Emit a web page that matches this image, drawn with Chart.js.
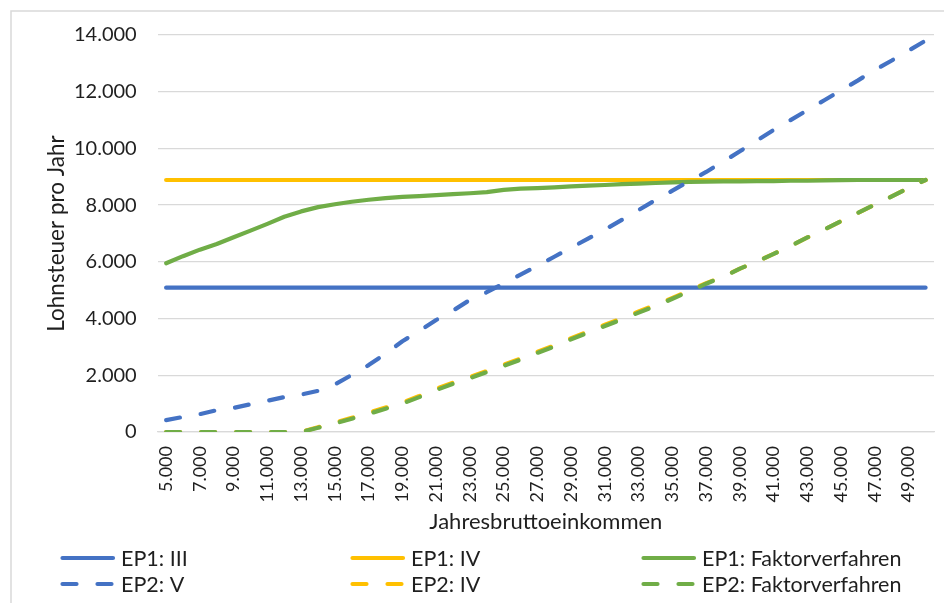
<!DOCTYPE html>
<html lang="de">
<head>
<meta charset="utf-8">
<title>Lohnsteuer pro Jahr</title>
<script src="https://cdn.jsdelivr.net/npm/chart.js@4.4.1/dist/chart.umd.min.js"></script>
<style>
  html, body { margin: 0; padding: 0; background: #ffffff; }
  #wrap { position: relative; width: 944px; height: 603px; overflow: hidden; }
  canvas { display: block; }
</style>
</head>
<body>
<div id="wrap"><canvas id="chart" width="944" height="603"></canvas></div>
<script>
// Jahresbruttoeinkommen von EP2 (Kategorien)
const incomes = [
  5000, 6000, 7000, 8000, 9000, 10000, 11000, 12000, 13000, 14000,
  15000, 16000, 17000, 18000, 19000, 20000, 21000, 22000, 23000, 24000,
  25000, 26000, 27000, 28000, 29000, 30000, 31000, 32000, 33000, 34000,
  35000, 36000, 37000, 38000, 39000, 40000, 41000, 42000, 43000, 44000,
  45000, 46000, 47000, 48000, 49000, 50000
];

// Lohnsteuer EP1, Steuerklasse III
const ep1III = [
  5090, 5090, 5090, 5090, 5090, 5090, 5090, 5090, 5090, 5090,
  5090, 5090, 5090, 5090, 5090, 5090, 5090, 5090, 5090, 5090,
  5090, 5090, 5090, 5090, 5090, 5090, 5090, 5090, 5090, 5090,
  5090, 5090, 5090, 5090, 5090, 5090, 5090, 5090, 5090, 5090,
  5090, 5090, 5090, 5090, 5090, 5090
];

// Lohnsteuer EP1, Steuerklasse IV
const ep1IV = [
  8886, 8886, 8886, 8886, 8886, 8886, 8886, 8886, 8886, 8886,
  8886, 8886, 8886, 8886, 8886, 8886, 8886, 8886, 8886, 8886,
  8886, 8886, 8886, 8886, 8886, 8886, 8886, 8886, 8886, 8886,
  8886, 8886, 8886, 8886, 8886, 8886, 8886, 8886, 8886, 8886,
  8886, 8886, 8886, 8886, 8886, 8886
];

// Lohnsteuer EP1, Faktorverfahren
const ep1Faktor = [
  5950, 6200, 6430, 6630, 6870, 7100, 7340, 7590, 7780, 7930,
  8030, 8120, 8190, 8250, 8290, 8320, 8350, 8390, 8420, 8460,
  8540, 8580, 8600, 8630, 8660, 8690, 8710, 8740, 8760, 8780,
  8800, 8820, 8830, 8840, 8840, 8850, 8850, 8860, 8860, 8870,
  8880, 8886, 8886, 8886, 8886, 8886
];

// Lohnsteuer EP2, Steuerklasse V
const ep2V = [
  420, 530, 630, 770, 850, 980, 1100, 1230, 1320, 1450,
  1680, 2010, 2360, 2760, 3200, 3560, 3950, 4280, 4660, 4930,
  5240, 5550, 5860, 6180, 6500, 6820, 7140, 7480, 7830, 8180,
  8510, 8850, 9170, 9530, 9900, 10280, 10650, 11000, 11350, 11700,
  12050, 12400, 12770, 13100, 13450, 13800
];

// Lohnsteuer EP2, Steuerklasse IV
const ep2IV = [
  0, 0, 0, 0, 0, 0, 0, 0, 0, 170,
  330, 500, 680, 860, 1040, 1270, 1520, 1740, 1940, 2150,
  2370, 2590, 2830, 3050, 3310, 3540, 3780, 4010, 4250, 4480,
  4730, 4990, 5250, 5480, 5760, 6010, 6280, 6560, 6860, 7140,
  7440, 7730, 8020, 8310, 8610, 8886
];

// Lohnsteuer EP2, Faktorverfahren
const ep2Faktor = [
  0, 0, 0, 0, 0, 0, 0, 0, 0, 150,
  300, 470, 640, 820, 1000, 1230, 1480, 1700, 1900, 2110,
  2330, 2550, 2790, 3010, 3270, 3500, 3740, 3970, 4210, 4440,
  4700, 4960, 5230, 5470, 5760, 6010, 6280, 6560, 6860, 7140,
  7440, 7730, 8020, 8310, 8610, 8886
];

const seriesNames = [
  'EP1: III', 'EP1: IV', 'EP1: Faktorverfahren',
  'EP2: V', 'EP2: IV', 'EP2: Faktorverfahren'
];

// deutsche Tausendertrennung: 14000 -> "14.000"
function fmtDE(v) {
  return String(Math.round(v)).replace(/\B(?=(\d{3})+(?!\d))/g, '.');
}
const incomeLabels = incomes.map(fmtDE);

const BLUE = '#4472C4', GOLD = '#FFC000', GREEN = '#70AD47';
const TEXT = '#1f1f1f', GRID = '#d9d9d9';
const FONT = 'Lato';
const DASH = [14, 21];

function series(label, data, color, dashed, idx) {
  return {
    label, data,
    borderColor: color,
    backgroundColor: color,
    borderWidth: 4.2,
    borderDash: dashed ? DASH : [],
    borderCapStyle: 'round',
    borderJoinStyle: 'round',
    pointRadius: 0,
    tension: 0,
    fill: false,
    order: 6 - idx   // spätere Reihen liegen oben
  };
}

// Legende als 3 Spalten x 2 Zeilen unterhalb der Achse
const gridLegend = {
  id: 'gridLegend',
  beforeDraw(chart) {
    const ctx = chart.ctx;
    ctx.save();
    ctx.strokeStyle = GRID;
    ctx.lineWidth = 1.5;
    ctx.beginPath();
    ctx.moveTo(11, chart.height + 2);
    ctx.lineTo(11, 11);
    ctx.lineTo(chart.width + 2, 11);
    ctx.stroke();
    ctx.restore();
  },
  afterDraw(chart) {
    const ctx = chart.ctx;
    const cols = [60, 350, 641];
    const rows = [558, 584];
    chart.data.datasets.forEach((ds, i) => {
      const x0 = cols[i % 3];
      const y = rows[Math.floor(i / 3)];
      ctx.save();
      ctx.strokeStyle = ds.borderColor;
      ctx.lineWidth = ds.borderWidth;
      ctx.lineCap = 'round';
      ctx.setLineDash(ds.borderDash);
      ctx.beginPath();
      ctx.moveTo(x0 + 2.5, y);
      ctx.lineTo(x0 + 53, y);
      ctx.stroke();
      ctx.setLineDash([]);
      ctx.fillStyle = TEXT;
      ctx.font = '21.5px ' + FONT;
      ctx.textBaseline = 'middle';
      ctx.textAlign = 'left';
      ctx.fillText(ds.label, x0 + 61, y + 1);
      ctx.restore();
    });
  }
};

new Chart(document.getElementById('chart'), {
  type: 'line',
  data: {
    labels: incomeLabels,
    datasets: [
      series(seriesNames[0], ep1III, BLUE, false, 0),
      series(seriesNames[1], ep1IV, GOLD, false, 1),
      series(seriesNames[2], ep1Faktor, GREEN, false, 2),
      series(seriesNames[3], ep2V, BLUE, true, 3),
      series(seriesNames[4], ep2IV, GOLD, true, 4),
      series(seriesNames[5], ep2Faktor, GREEN, true, 5)
    ]
  },
  options: {
    responsive: false,
    animation: false,
    devicePixelRatio: 1,
    layout: { padding: { left: 43, right: 10, top: 35, bottom: 68 } },
    plugins: {
      legend: { display: false },
      tooltip: { enabled: false }
    },
    scales: {
      x: {
        offset: true,
        grid: { display: false, drawTicks: false },
        border: { display: true, color: GRID, width: 1.3 },
        ticks: {
          autoSkip: false,
          minRotation: 90,
          maxRotation: 90,
          padding: 14,
          color: TEXT,
          font: { family: FONT, size: 18 },
          callback: (v, i) => (i % 2 === 0 ? incomeLabels[i] : '')
        },
        title: {
          display: true,
          text: 'Jahresbruttoeinkommen',
          color: TEXT,
          font: { family: FONT, size: 22 },
          padding: { top: 0, bottom: 0 }
        },
        afterFit(scale) {
          scale.height = 103;
          scale.paddingLeft = 0;
          scale.paddingRight = 0;
        }
      },
      y: {
        min: 0,
        max: 14000,
        grid: { color: GRID, lineWidth: 1.3, drawTicks: false },
        border: { display: false },
        ticks: {
          stepSize: 2000,
          padding: 21,
          color: TEXT,
          font: { family: FONT, size: 20 },
          callback: v => fmtDE(v)
        },
        title: {
          display: true,
          text: 'Lohnsteuer pro Jahr',
          color: TEXT,
          font: { family: FONT, size: 22.5 },
          padding: { top: 0, bottom: 0 }
        },
        afterFit(scale) {
          scale.width = 114.7;
        }
      }
    }
  },
  plugins: [gridLegend]
});
</script>
</body>
</html>
